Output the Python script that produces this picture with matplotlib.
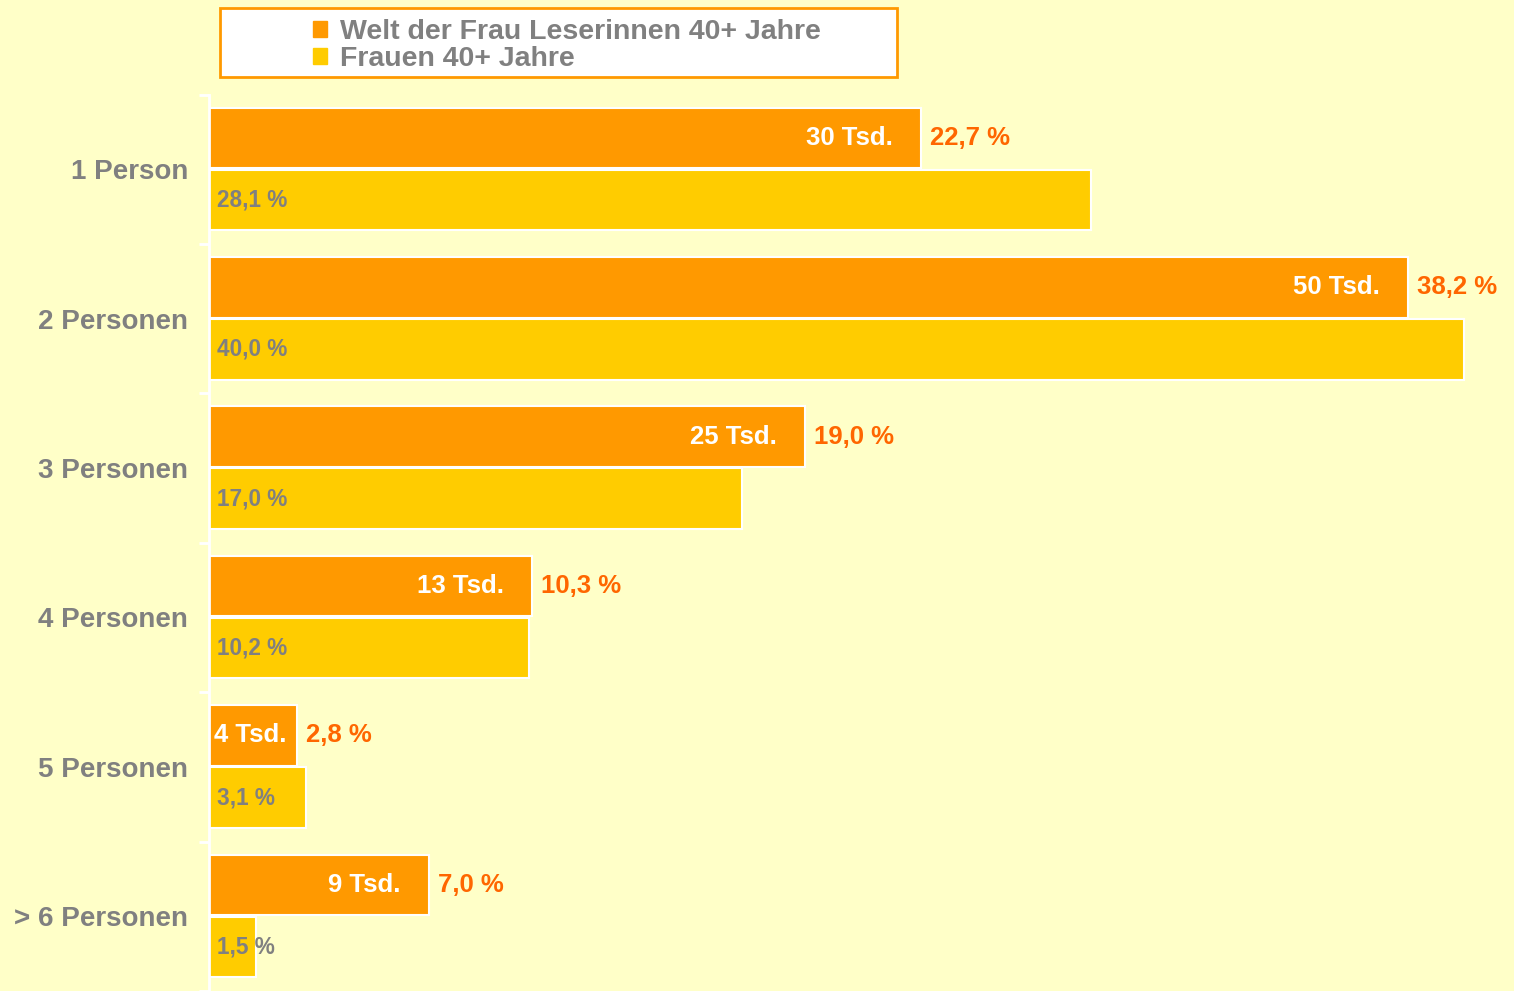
import numpy as np
import matplotlib.pyplot as plt
from matplotlib.patches import Patch, Rectangle

plt.rcParams["font.family"] = ["Liberation Sans", "DejaVu Sans"]

categories = ["1 Person", "2 Personen", "3 Personen", "4 Personen", "5 Personen", "> 6 Personen"]
wdf_pct = [22.7, 38.2, 19.0, 10.3, 2.8, 7.0]
wdf_tsd = [30, 50, 25, 13, 4, 9]
frauen_pct = [28.1, 40.0, 17.0, 10.2, 3.1, 1.5]

BG = "#FFFFC8"
ORANGE = "#FF9900"
YELLOW = "#FFCC00"
RED = "#FF6600"
GRAY = "#808080"

W, H = 1514, 991
fig = plt.figure(figsize=(W / 100, H / 100), dpi=100, facecolor=BG)
ax = fig.add_axes([209 / W, 0, 1 - 209 / W, 1 - 94.5 / H], facecolor=BG)

y = np.arange(len(categories))
ax.barh(y - 0.21, wdf_pct, height=0.405, color=ORANGE, edgecolor="white", linewidth=1.5)
ax.barh(y + 0.205, frauen_pct, height=0.405, color=YELLOW, edgecolor="white", linewidth=1.5)

ax.set_xlim(0, (W - 209) / 31.375)
ax.set_ylim(-0.5 + (H - 94.5) / 150.3, -0.5)

for yi, p, t, f in zip(y, wdf_pct, wdf_tsd, frauen_pct):
    ax.annotate(f"{p:.1f} %".replace(".", ","), (p, yi - 0.21), xytext=(9, 0),
                textcoords="offset pixels", ha="left", va="center",
                color=RED, fontsize=18.5, fontweight="bold")
    if p > 5:
        ax.annotate(f"{t} Tsd.", (p, yi - 0.21), xytext=(-28, 0),
                    textcoords="offset pixels", ha="right", va="center",
                    color="white", fontsize=18.5, fontweight="bold")
    else:
        ax.annotate(f"{t} Tsd.", (0, yi - 0.21), xytext=(5, 0),
                    textcoords="offset pixels", ha="left", va="center",
                    color="white", fontsize=18.5, fontweight="bold")
    ax.annotate(f"{f:.1f} %".replace(".", ","), (0, yi + 0.205), xytext=(8, 0),
                textcoords="offset pixels", ha="left", va="center",
                color=GRAY, fontsize=16.3, fontweight="bold")

ax.set_yticks(y)
ax.set_yticklabels(categories, color=GRAY, fontsize=20, fontweight="bold")
ax.tick_params(axis="y", which="major", length=0, pad=15)
ax.set_yticks(np.arange(-0.5, len(categories)), minor=True)
ax.tick_params(axis="y", which="minor", length=7, width=2, color="white")
ax.set_xticks([])
for s in ["top", "right", "bottom"]:
    ax.spines[s].set_visible(False)
ax.spines["left"].set_color("white")
ax.spines["left"].set_linewidth(2)

# legend box
fig.patches.append(Rectangle((220 / W, 1 - 77 / H), 677 / W, 69 / H,
                             transform=fig.transFigure, facecolor="white",
                             edgecolor=ORANGE, linewidth=2, zorder=0))
handles = [Patch(color=ORANGE, label="Welt der Frau Leserinnen 40+ Jahre"),
           Patch(color=YELLOW, label="Frauen 40+ Jahre")]
leg = fig.legend(handles=handles, loc="upper left",
                 bbox_to_anchor=(290 / W, 1 + 4 / H), frameon=False,
                 handlelength=0.5, handleheight=0.5, handletextpad=0.45,
                 labelspacing=0.05, borderpad=0.3,
                 prop={"size": 20.5, "weight": "bold"})
for txt in leg.get_texts():
    txt.set_color(GRAY)

fig.savefig("out.png", dpi=100, facecolor=BG)
